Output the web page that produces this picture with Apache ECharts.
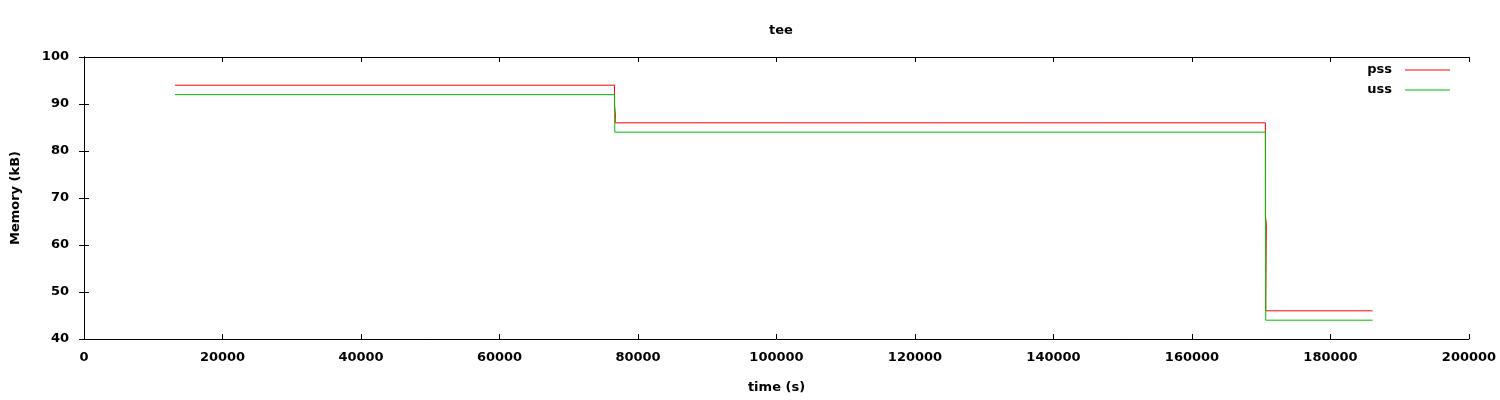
<!DOCTYPE html>
<html>
<head>
<meta charset="utf-8">
<script src="https://cdn.jsdelivr.net/npm/echarts@6/dist/echarts.min.js"></script>
<style>html,body{margin:0;padding:0;background:#fff}#c{width:1500px;height:400px}</style>
</head>
<body>
<div id="c"></div>
<script>
const titleText = 'tee';
const xName = 'time (s)';
const yName = 'Memory (kB)';
const seriesNames = ['pss', 'uss'];
const pssData = [[13150,94],[76600,94],[76600,90],[76740,89.7],[76740,87.6],[76700,86],[170600,86],[170600,66.3],[170740,66],[170740,64.3],[170640,46],[186080,46]];
const ussData = [[13150,92],[76600,92],[76650,84],[170600,84],[170650,44],[186080,44]];
const xMin = 0, xMax = 200000, xStep = 20000;
const yMin = 40, yMax = 100, yStep = 10;

const font = 'DejaVu Sans';
const lab = {fontFamily: font, fontWeight: 'bold', fontSize: 13, color: '#000'};
const axisCommon = {
  axisLine: {show: true, lineStyle: {color: '#000', width: 1}},
  axisTick: {show: true, inside: true, length: 5, lineStyle: {color: '#000'}},
  splitLine: {show: false}
};
const chart = echarts.init(document.getElementById('c'), null, {renderer: 'canvas'});
chart.setOption({
  animation: false,
  backgroundColor: '#fff',
  title: {text: titleText, left: 776, textAlign: 'center', top: 19, textStyle: Object.assign({}, lab)},
  grid: {left: 84, right: 31, top: 57, bottom: 61, containLabel: false},
  legend: {
    data: seriesNames, right: 50, top: 63, padding: 0, orient: 'vertical', align: 'right',
    icon: 'rect', itemWidth: 45, itemHeight: 1, itemGap: 6,
    textStyle: Object.assign({}, lab, {lineHeight: 14, padding: [0, 8, 0, 0]})
  },
  xAxis: [
    Object.assign({type: 'value', min: xMin, max: xMax, interval: xStep, position: 'bottom',
      name: xName, nameLocation: 'middle', nameGap: 42, nameTextStyle: Object.assign({}, lab),
      axisLabel: Object.assign({margin: 12, formatter: v => String(v)}, lab)}, axisCommon),
    Object.assign({type: 'value', min: xMin, max: xMax, interval: xStep, position: 'top',
      axisLabel: {show: false}}, axisCommon)
  ],
  yAxis: [
    Object.assign({type: 'value', min: yMin, max: yMax, interval: yStep, position: 'left',
      name: yName, nameLocation: 'middle', nameGap: 62, nameTextStyle: Object.assign({}, lab),
      axisLabel: Object.assign({margin: 15, formatter: v => String(v)}, lab)}, axisCommon),
    Object.assign({type: 'value', min: yMin, max: yMax, interval: yStep, position: 'right',
      axisLabel: {show: false}}, axisCommon)
  ],
  series: [
    {name: seriesNames[0], type: 'line', data: pssData, showSymbol: false, symbol: 'none',
      lineStyle: {color: '#ff0000', width: 1}, itemStyle: {color: '#ff0000'}},
    {name: seriesNames[1], type: 'line', data: ussData, showSymbol: false, symbol: 'none',
      lineStyle: {color: '#00c000', width: 1}, itemStyle: {color: '#00c000'}}
  ]
});
</script>
</body>
</html>
